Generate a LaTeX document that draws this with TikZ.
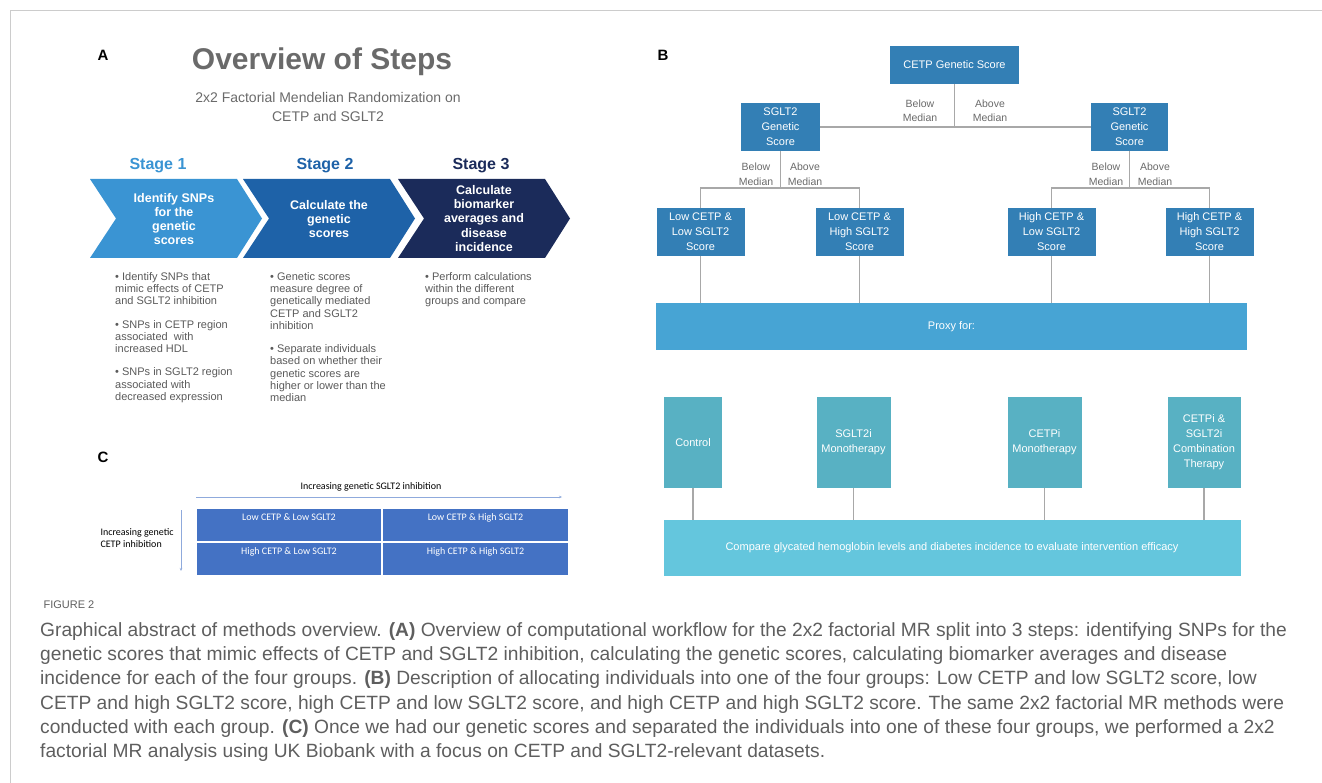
\documentclass[tikz,border=0pt]{standalone}
\usepackage{fontspec}
\setmainfont{Liberation Sans}
\newfontfamily\carl{Carlito}
\usetikzlibrary{arrows.meta}

\definecolor{stageone}{HTML}{3A94D3}
\definecolor{stagetwo}{HTML}{1E62A8}
\definecolor{stagethree}{HTML}{1B2B5A}
\definecolor{titlegray}{HTML}{6A6A6A}
\definecolor{bulgray}{HTML}{5A5A5A}
\definecolor{treeblue}{HTML}{337FB5}
\definecolor{proxyblue}{HTML}{47A4D4}
\definecolor{rxteal}{HTML}{58B1C3}
\definecolor{cmpteal}{HTML}{64C6DD}
\definecolor{gridblue}{HTML}{4472C4}
\definecolor{linegray}{HTML}{A8A8A8}
\definecolor{framegray}{HTML}{CCCCCC}
\definecolor{capgray}{HTML}{5E5E5E}

\newcommand{\fsz}[2]{\fontsize{#1}{#2}\selectfont}

\tikzset{
	panel/.style={font=\bfseries\fsz{15}{18}, text=black},
	stagelbl/.style={font=\bfseries\fsz{16}{19}},
	chevtext/.style={text=white, align=center, font=\bfseries\fsz{12.5}{14.3}},
	bullets/.style={text=bulgray, align=left, anchor=north west, inner sep=0pt, font=\fsz{11}{12.3}},
	tbox/.style={fill=treeblue, text=white, align=center, inner sep=0pt, font=\fsz{11}{15}},
	rxbox/.style={fill=rxteal, text=white, align=center, inner sep=0pt, font=\fsz{11}{15}},
	medlbl/.style={text=titlegray, align=center, inner sep=0pt, font=\fsz{10.5}{14.5}},
	lnk/.style={draw=linegray, line width=1.4pt},
	cell/.style={fill=gridblue, draw=white, line width=1.5pt, minimum width=186pt, minimum height=34pt},
	celltext/.style={anchor=north, text=white, font=\carl\fsz{10}{12}, yshift=-3pt},
	axis/.style={draw=gridblue!60, line width=0.6pt, -{Stealth[length=3pt, width=2.5pt]}}
}

\begin{document}
\begin{tikzpicture}[x=1pt, y=-1pt]
	\useasboundingbox (0,0) rectangle (1322,783);
	\draw[framegray, line width=1pt] (10,783) -- (10,11) -- (1322,11);

	% panel A
	\node[panel] (pa) at (103,55) {A};
	\node[font=\bfseries\fsz{30}{34}, text=titlegray] (title) at (322,62) {Overview of Steps};
	\node[font=\fsz{14}{18}, text=titlegray, align=center] (subt) at (328,107) {2x2 Factorial Mendelian Randomization on\\CETP and SGLT2};
	\node[stagelbl, text=stageone] (st1) at (158,166) {Stage 1};
	\node[stagelbl, text=stagetwo] (st2) at (325,166) {Stage 2};
	\node[stagelbl, text=stagethree] (st3) at (481,166) {Stage 3};
	\foreach \x/\c in {90/stageone, 243/stagetwo, 398/stagethree}
		\fill[\c] (\x,179) -- ++(147,0) -- ++(25,39.5) -- ++(-25,39.5) -- ++(-147,0) -- ++(26,-39.5) -- cycle;
	\node[chevtext] (ch1) at (174,219) {Identify SNPs\\for the\\genetic\\scores};
	\node[chevtext] (ch2) at (329,219) {Calculate the\\genetic\\scores};
	\node[chevtext] (ch3) at (484,218.5) {Calculate\\biomarker\\averages and\\disease\\incidence};
	\node[bullets] (bu1) at (115,272) {• Identify SNPs that\\mimic effects of CETP\\and SGLT2 inhibition\\[11pt]• SNPs in CETP region\\associated\ \ with\\increased HDL\\[11pt]• SNPs in SGLT2 region\\associated with\\decreased expression};
	\node[bullets] (bu2) at (270,272) {• Genetic scores\\measure degree of\\genetically mediated\\CETP and SGLT2\\inhibition\\[11pt]• Separate individuals\\based on whether their\\genetic scores are\\higher or lower than the\\median};
	\node[bullets] (bu3) at (425,272) {• Perform calculations\\within the different\\groups and compare};

	% panel C
	\node[panel] (pc) at (103,457) {C};
	\node[font=\carl\fsz{10}{12}] (hlbl) at (371,487) {Increasing genetic SGLT2 inhibition};
	\node[font=\carl\fsz{10}{12}, align=left, anchor=west] (vlbl) at (97,538) {Increasing genetic\\CETP inhibition};
	\coordinate (h0) at (196,497);
	\coordinate (h1) at (562,497);
	\coordinate (v0) at (181,510);
	\coordinate (v1) at (181,571);
	\draw[axis] (h0) -- (h1);
	\draw[axis] (v0) -- (v1);
	\node[cell] (c11) at (289,525) {};
	\node[cell] (c12) at (475.5,525) {};
	\node[cell] (c21) at (289,559) {};
	\node[cell] (c22) at (475.5,559) {};
	\node[celltext] at (c11.north) {Low CETP \& Low SGLT2};
	\node[celltext] at (c12.north) {Low CETP \& High SGLT2};
	\node[celltext] at (c21.north) {High CETP \& Low SGLT2};
	\node[celltext] at (c22.north) {High CETP \& High SGLT2};

	% panel B
	\node[panel] (pb) at (663,55) {B};
	\node[tbox, minimum width=129pt, minimum height=38pt] (cetp) at (954.5,65) {CETP Genetic Score};
	\node[tbox, minimum width=79pt, minimum height=48pt] (sgl) at (780.5,127) {SGLT2\\Genetic\\Score};
	\node[tbox, minimum width=77pt, minimum height=48pt] (sgr) at (1129.5,127) {SGLT2\\Genetic\\Score};
	\draw[lnk] (cetp.south) -- (cetp.south |- sgl.east);
	\draw[lnk] (sgl.east) -- (sgr.west);
	\node[medlbl] (tbel) at (920,111) {Below\\Median};
	\node[medlbl] (tabv) at (990,111) {Above\\Median};

	\node[tbox, minimum width=88pt, minimum height=48pt] (g1) at (700.5,232) {Low CETP \&\\Low SGLT2\\Score};
	\node[tbox, minimum width=88pt, minimum height=48pt] (g2) at (859.5,232) {Low CETP \&\\High SGLT2\\Score};
	\node[tbox, minimum width=88pt, minimum height=48pt] (g3) at (1051.5,232) {High CETP \&\\Low SGLT2\\Score};
	\node[tbox, minimum width=88pt, minimum height=48pt] (g4) at (1209.5,232) {High CETP \&\\High SGLT2\\Score};
	\coordinate (jl) at (780.5,188);
	\coordinate (jr) at (1129.5,188);
	\draw[lnk] (sgl.south) -- (jl);
	\draw[lnk] (sgr.south) -- (jr);
	\draw[lnk] (g1.north) -- (g1.north |- jl) -- (g2.north |- jl) -- (g2.north);
	\draw[lnk] (g3.north) -- (g3.north |- jr) -- (g4.north |- jr) -- (g4.north);
	\foreach \x/\n in {756/lbel, 1106/rbel}
		\node[medlbl] (\n) at (\x,174) {Below\\Median};
	\foreach \x/\n in {805/labv, 1155/rabv}
		\node[medlbl] (\n) at (\x,174) {Above\\Median};

	\node[fill=proxyblue, text=white, minimum width=591pt, minimum height=47pt, font=\fsz{11}{14}] (proxy) at (951.5,326.5) {Proxy for:};
	\foreach \g in {g1, g2, g3, g4}
		\draw[lnk] (\g.south) -- (\g.south |- proxy.north);

	\node[rxbox, minimum width=58pt, minimum height=91pt] (ctrl) at (693,442.5) {Control};
	\node[rxbox, minimum width=74pt, minimum height=91pt] (sglti) at (853.5,442.5) {SGLT2i\\Monotherapy};
	\node[rxbox, minimum width=74pt, minimum height=91pt] (cetpi) at (1044.5,442.5) {CETPi\\Monotherapy};
	\node[rxbox, minimum width=73pt, minimum height=91pt] (combo) at (1204,442.5) {CETPi \&\\SGLT2i\\Combination\\Therapy};
	\node[fill=cmpteal, text=white, minimum width=577pt, minimum height=56pt, font=\fsz{11}{14}] (cmp) at (952,548) {Compare glycated hemoglobin levels and diabetes incidence to evaluate intervention efficacy};
	\foreach \r in {ctrl, sglti, cetpi, combo}
		\draw[lnk] (\r.south) -- (\r.south |- cmp.north);

	% caption
	\node[anchor=west, text=capgray, font=\fsz{11}{13}] (fig) at (40,605) {FIGURE 2};
	\node[anchor=north west, inner sep=0pt, align=left, text=capgray, font=\fsz{19.2}{24.3}] (cap) at (40,622) {Graphical abstract of methods overview. \textbf{(A)} Overview of computational workflow for the 2x2 factorial MR split into 3 steps: identifying SNPs for the\\
	genetic scores that mimic effects of CETP and SGLT2 inhibition, calculating the genetic scores, calculating biomarker averages and disease\\
	incidence for each of the four groups. \textbf{(B)} Description of allocating individuals into one of the four groups: Low CETP and low SGLT2 score, low\\
	CETP and high SGLT2 score, high CETP and low SGLT2 score, and high CETP and high SGLT2 score. The same 2x2 factorial MR methods were\\
	conducted with each group. \textbf{(C)} Once we had our genetic scores and separated the individuals into one of these four groups, we performed a 2x2\\
	factorial MR analysis using UK Biobank with a focus on CETP and SGLT2-relevant datasets.};
\end{tikzpicture}
\end{document}
